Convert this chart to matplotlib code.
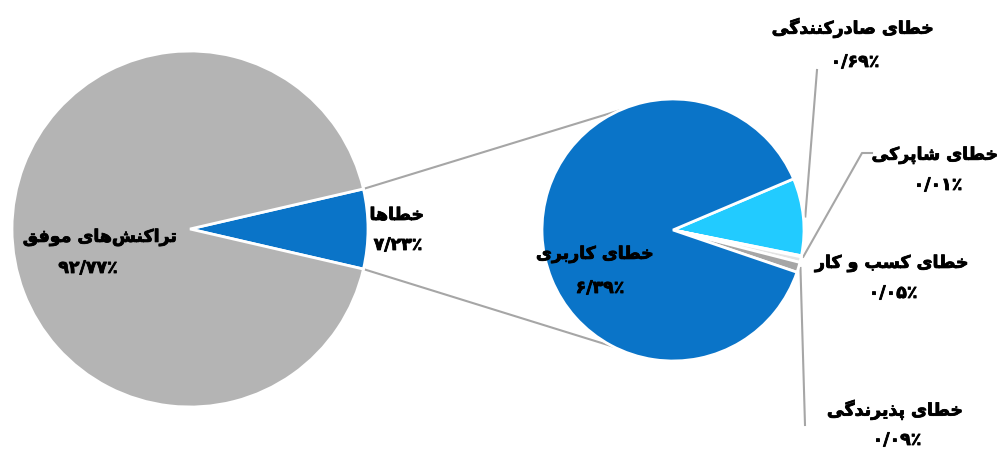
import numpy as np
import matplotlib
matplotlib.use("Agg")
import matplotlib.pyplot as plt
import matplotlib.patheffects as pe

# === Data ===
main_labels = ["خطاها", "تراکنش‌های موفق"]
main_values = [7.23, 92.77]

sub_labels = ["خطای صادرکنندگی", "خطای شاپرکی", "خطای کسب و کار",
              "خطای پذیرندگی", "خطای کاربری"]
sub_values = [0.69, 0.01, 0.05, 0.09, 6.39]

main_colors = ["#0A74C8", "#B4B4B4"]
sub_colors = ["#22CBFF", "#A9D18E", "#E4E4E4", "#A6A6A6", "#0A74C8"]

# === minimal Persian shaping (no arabic_reshaper available) ===
# isolated, final, initial, medial
FORMS = {
    "ا": ("\uFE8D", "\uFE8E", None, None),
    "ب": ("\uFE8F", "\uFE90", "\uFE91", "\uFE92"),
    "پ": ("\uFB56", "\uFB57", "\uFB58", "\uFB59"),
    "ت": ("\uFE95", "\uFE96", "\uFE97", "\uFE98"),
    "خ": ("\uFEA5", "\uFEA6", "\uFEA7", "\uFEA8"),
    "د": ("\uFEA9", "\uFEAA", None, None),
    "ذ": ("\uFEAB", "\uFEAC", None, None),
    "ر": ("\uFEAD", "\uFEAE", None, None),
    "ز": ("\uFEAF", "\uFEB0", None, None),
    "س": ("\uFEB1", "\uFEB2", "\uFEB3", "\uFEB4"),
    "ش": ("\uFEB5", "\uFEB6", "\uFEB7", "\uFEB8"),
    "ص": ("\uFEB9", "\uFEBA", "\uFEBB", "\uFEBC"),
    "ط": ("\uFEC1", "\uFEC2", "\uFEC3", "\uFEC4"),
    "ف": ("\uFED1", "\uFED2", "\uFED3", "\uFED4"),
    "ق": ("\uFED5", "\uFED6", "\uFED7", "\uFED8"),
    "ک": ("\uFB8E", "\uFB8F", "\uFB90", "\uFB91"),
    "گ": ("\uFB92", "\uFB93", "\uFB94", "\uFB95"),
    "ل": ("\uFEDD", "\uFEDE", "\uFEDF", "\uFEE0"),
    "م": ("\uFEE1", "\uFEE2", "\uFEE3", "\uFEE4"),
    "ن": ("\uFEE5", "\uFEE6", "\uFEE7", "\uFEE8"),
    "ه": ("\uFEE9", "\uFEEA", "\uFEEB", "\uFEEC"),
    "و": ("\uFEED", "\uFEEE", None, None),
    "ی": ("\uFBFC", "\uFBFD", "\uFBFE", "\uFBFF"),
}


def shape(text):
    out = []
    n = len(text)
    for i, ch in enumerate(text):
        if ch not in FORMS:
            if ch != "\u200c":
                out.append(ch)
            continue
        f = FORMS[ch]
        prev = text[i - 1] if i > 0 else ""
        nxt = text[i + 1] if i < n - 1 else ""
        join_prev = prev in FORMS and FORMS[prev][2] is not None
        join_next = f[2] is not None and nxt in FORMS
        if join_prev and join_next:
            out.append(f[3])
        elif join_prev:
            out.append(f[1])
        elif join_next:
            out.append(f[2])
        else:
            out.append(f[0])
    return "".join(reversed(out))


def fa_pct(v):
    s = f"{v:.2f}".replace(".", "/")
    s = s.translate(str.maketrans("0123456789", "۰۱۲۳۴۵۶۷۸۹"))
    return s + "٪"


plt.rcParams["font.family"] = ["DejaVu Sans"]

fig = plt.figure(figsize=(9.97, 4.5), dpi=100)
ax = fig.add_axes([0, 0, 1, 1])

# main pie
c1, r1 = (190, 221), 178
start1 = -main_values[0] / sum(main_values) * 360 / 2
w1, _ = ax.pie(main_values, colors=main_colors, center=c1, radius=r1,
               startangle=start1, counterclock=True, frame=True,
               wedgeprops=dict(edgecolor="white", linewidth=2))

# second pie
c2, r2 = (673, 220), 131
w2, _ = ax.pie(sub_values, colors=sub_colors, center=c2, radius=r2,
               startangle=23, counterclock=False, frame=True,
               wedgeprops=dict(edgecolor="white", linewidth=2))
ax.set_xlim(0, 997)
ax.set_ylim(0, 450)
ax.set_aspect("equal")
ax.axis("off")

# connector lines between pies
line_col = "#A6A6A6"
err = w1[0]
for th, th2 in [(err.theta2, 114), (err.theta1, -117)]:
    x0 = c1[0] + r1 * np.cos(np.radians(th))
    y0 = c1[1] + r1 * np.sin(np.radians(th))
    x1 = c2[0] + r2 * np.cos(np.radians(th2))
    y1 = c2[1] + r2 * np.sin(np.radians(th2))
    ax.plot([x0, x1], [y0, y1], color=line_col, lw=1.5, zorder=0)

# leader lines for small slices
leaders = {
    0: [(817, 450 - 70)],
    1: [(862, 450 - 153), (872, 450 - 153)],
    3: [(805, 450 - 425)],
}
for idx, pts in leaders.items():
    w = w2[idx]
    mid = np.radians((w.theta1 + w.theta2) / 2)
    x0 = c2[0] + (r2 + 2) * np.cos(mid)
    y0 = c2[1] + (r2 + 2) * np.sin(mid)
    xs = [x0] + [p[0] for p in pts]
    ys = [y0] + [p[1] for p in pts]
    ax.plot(xs, ys, color=line_col, lw=1.5, zorder=0)

# labels (stroke to fake the bold face, DejaVu Bold lacks these forms)
fs = 12.5
bold = [pe.withStroke(linewidth=0.6, foreground="black")]


def put(x, y, s, ha="center"):
    ax.text(x, 450 - y, s, ha=ha, va="center", fontsize=fs,
            fontweight="bold", path_effects=bold)


label_pos_main = [((397, 215), (398, 245)), ((100, 237), (88, 268))]
for (p1, p2), lab, v in zip(label_pos_main, main_labels, main_values):
    put(p1[0], p1[1], shape(lab))
    put(p2[0], p2[1], fa_pct(v))

label_pos_sub = [((853, 28), (855, 62)), ((935, 155), (938, 185)),
                 ((892, 263), (893, 293)), ((895, 410), (897, 440)),
                 ((595, 254), (600, 288))]
for (p1, p2), lab, v in zip(label_pos_sub, sub_labels, sub_values):
    put(p1[0], p1[1], shape(lab))
    put(p2[0], p2[1], fa_pct(v))

fig.savefig("out.png", dpi=100)
